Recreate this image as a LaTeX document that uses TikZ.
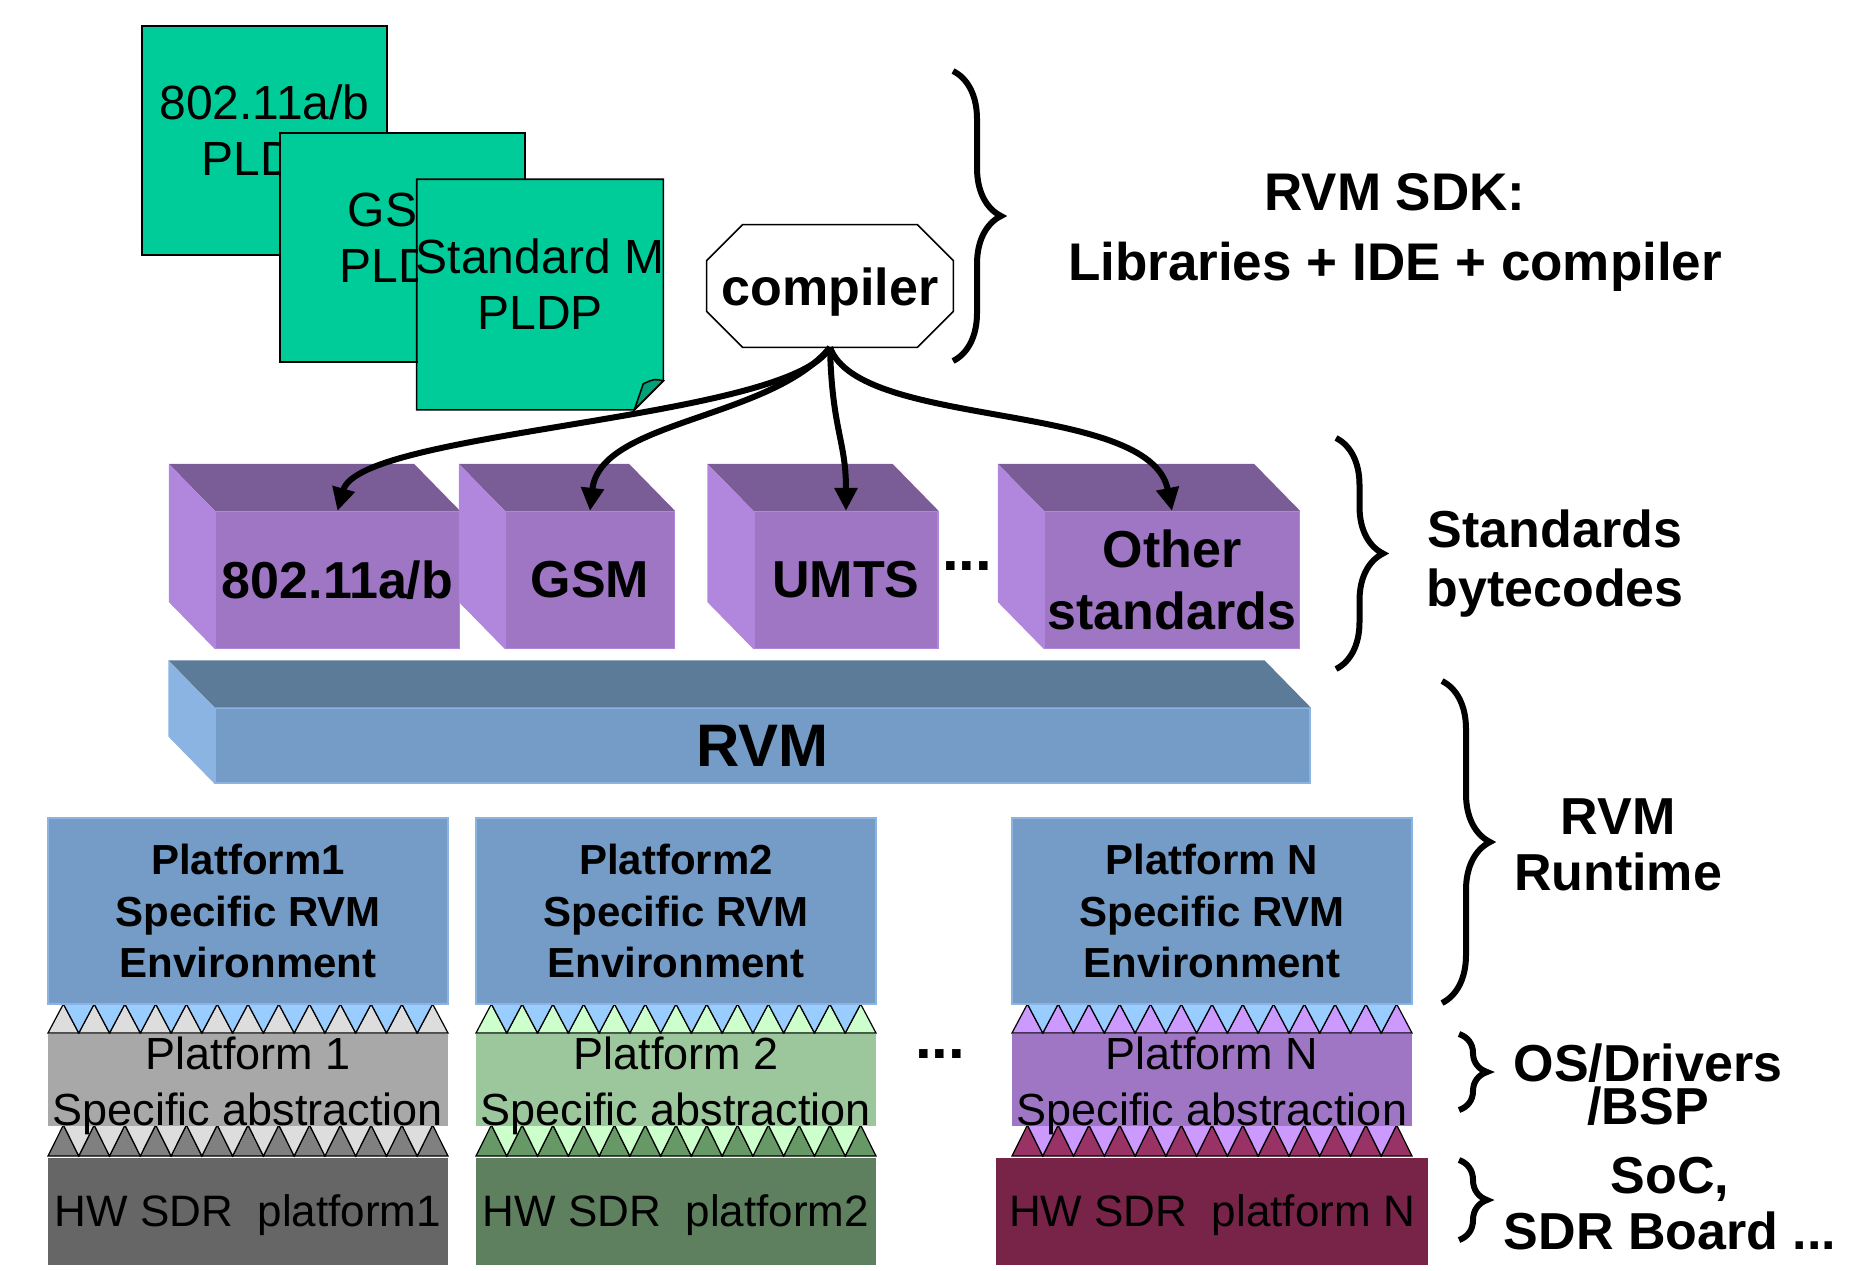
\documentclass[tikz,border=0pt]{standalone}
\usepackage{fontspec}
\setmainfont{Liberation Sans}
\usetikzlibrary{arrows.meta, positioning, calc, decorations.pathreplacing}

\definecolor{cardgreen}{RGB}{0,204,153}
\definecolor{folddark}{RGB}{0,160,120}
\definecolor{cubefront}{RGB}{158,118,196}
\definecolor{cubetop}{RGB}{122,92,150}
\definecolor{cubeside}{RGB}{177,135,222}
\definecolor{rvmfront}{RGB}{117,156,198}
\definecolor{rvmtop}{RGB}{91,123,153}
\definecolor{rvmside}{RGB}{139,180,226}
\definecolor{toothblue}{RGB}{153,204,255}
\definecolor{greylight}{RGB}{221,221,221}
\definecolor{greymid}{RGB}{168,168,168}
\definecolor{greytooth}{RGB}{128,128,128}
\definecolor{greydark}{RGB}{102,102,102}
\definecolor{greenlight}{RGB}{204,255,204}
\definecolor{greenmid}{RGB}{156,198,156}
\definecolor{greentooth}{RGB}{102,153,102}
\definecolor{greendark}{RGB}{94,128,94}
\definecolor{lilaclight}{RGB}{204,153,255}
\definecolor{lilacmid}{RGB}{158,118,196}
\definecolor{maroontooth}{RGB}{153,51,102}
\definecolor{maroondark}{RGB}{119,36,72}

\pgfdeclarelayer{bg}
\pgfsetlayers{bg,main}

\newcommand{\fs}[2]{\fontsize{#1}{#2}\selectfont}
\newcommand{\teeth}[6]{%
  \pgfmathsetmacro{\tw}{(#2-#1)/13}
  \foreach \i in {0,...,12}
    \filldraw[fill=#5, line width=0.6pt] ({#1+\i*\tw},#4) -- ({#1+(\i+0.5)*\tw},#3) -- ({#1+(\i+1)*\tw},#4) -- cycle;
  \foreach \i in {0,...,11}
    \filldraw[fill=#6, line width=0.6pt] ({#1+(\i+0.5)*\tw},#3) -- ({#1+(\i+1)*\tw},#4) -- ({#1+(\i+1.5)*\tw},#3) -- cycle;
}

\begin{document}
\begin{tikzpicture}[
        x=0.5pt, y=-0.5pt,
        node distance=14.5pt,
        card/.style={draw, line width=0.8pt, fill=cardgreen, minimum width=122.5pt, minimum height=114.5pt, inner sep=0pt},
        cardtext/.style={inner sep=0pt, align=center, font=\fs{24}{28}},
        cmpbox/.style={minimum width=123pt, minimum height=61pt, inner sep=0pt, text height=25pt, text depth=5.5pt, font=\bfseries\fs{26}{30}},
        cube/.style={fill=cubefront, draw=cubeside, line width=0.6pt, minimum height=68.5pt, inner sep=0pt, align=center, font=\bfseries\fs{26}{31}},
        rvmbar/.style={fill=rvmfront, draw=rvmside, line width=0.6pt, minimum width=547.5pt, minimum height=37.5pt, inner sep=0pt, font=\bfseries\fs{30}{36}},
        env/.style={fill=rvmfront, draw=rvmside, line width=0.6pt, minimum width=200pt, minimum height=93pt, inner sep=0pt, align=center, font=\bfseries\fs{21}{25.8}},
        absbox/.style={minimum width=200pt, minimum height=46pt, inner sep=0pt},
        abstext/.style={inner sep=0pt, align=center, font=\fs{22.5}{28}},
        hwbox/.style={minimum width=200pt, minimum height=53.5pt, inner sep=0pt, text height=19.5pt, text depth=4.6pt, font=\fs{22}{26}},
        dots/.style={inner sep=0pt, font=\bfseries\fs{30}{30}},
        lbl/.style={inner sep=0pt, align=center},
        curly/.style={decorate, decoration={brace, amplitude=#1, aspect=0.5}, line width=3pt},
        flow/.style={-{Triangle[length=11.5pt, width=11pt]}, line width=3pt}
    ]

    \useasboundingbox (0,0) rectangle (1857,1270);

    \node[card] (pld1) at (264.5,140.5) {};
    \node[cardtext] (pld1t) at ($(pld1)+(0,-10)$) {802.11a/b\\PLDP};
    \node[card] (pld2) at (402.5,247.5) {};
    \node[cardtext] (pld2t) at ($(pld2)+(0,-10)$) {GSM\\PLDP};
    \node[card, draw=none] (pld3) at (540,294.5) {};
    \fill[white] (pld3.south east) -- ++(0,-29) -- ++(-29,29) -- cycle;
    \draw[line width=0.8pt] (pld3.north west) -- (pld3.north east) -- ($(pld3.south east)+(0,-29)$) -- ($(pld3.south east)+(-29,0)$) -- (pld3.south west) -- cycle;
    \filldraw[fill=folddark, line width=0.8pt] ($(pld3.south east)+(0,-29)$) .. controls ($(pld3.south east)+(-9,-31)$) .. ($(pld3.south east)+(-20,-26)$) -- ($(pld3.south east)+(-29,0)$) -- cycle;
    \node[cardtext] (pld3t) at ($(pld3)+(0,-10)$) {Standard M\\PLDP};

    \node[cmpbox] (cmp) at (830,286) {compiler};

    \node[cube, minimum width=122pt] (s1) at (337.5,580) {802.11a/b};
    \node[cube, minimum width=84.5pt] (s2) at (590,580) {GSM};
    \node[cube, minimum width=92pt] (s3) at (846,580) {UMTS};
    \node[cube, minimum width=127.5pt] (s4) at (1172,580) {Other\\standards};
    \foreach \c in {s1,s2,s3,s4} {
        \fill[cubetop] (\c.north west) -- ++(-46,-47) -- ($(\c.north east)+(-46,-47)$) -- (\c.north east) -- cycle;
        \fill[cubeside] (\c.north west) -- ++(-46,-47) -- ($(\c.south west)+(-46,-47)$) -- (\c.south west) -- cycle;
    }
    \node[dots] (dots1) at (967,566) {...};

    \node[rvmbar] (rvm) at (762.5,745.5) {RVM};
    \fill[rvmtop] (rvm.north west) -- ++(-46,-47) -- ($(rvm.north east)+(-46,-47)$) -- (rvm.north east) -- cycle;
    \fill[rvmside] (rvm.north west) -- ++(-46,-47) -- ($(rvm.south west)+(-46,-47)$) -- (rvm.south west) -- cycle;

    \node[env] (env1) at (248,911) {Platform1\\Specific RVM\\Environment};
    \node[env] (env2) at (676,911) {Platform2\\Specific RVM\\Environment};
    \node[env] (envN) at (1212,911) {Platform N\\Specific RVM\\Environment};

    \node[absbox, fill=greymid, below=of env1] (abs1) {};
    \node[absbox, fill=greenmid, below=of env2] (abs2) {};
    \node[absbox, fill=lilacmid, below=of envN] (absN) {};
    \node[abstext] (abs1t) at ($(abs1)+(0,6)$) {Platform 1\\Specific abstraction};
    \node[abstext] (abs2t) at ($(abs2)+(0,6)$) {Platform 2\\Specific abstraction};
    \node[abstext] (absNt) at ($(absN)+(0,6)$) {Platform N\\Specific abstraction};
    \node[dots] (dots2) at (940,1054) {...};

    \node[hwbox, fill=greydark, below=15.5pt of abs1] (hw1) {HW SDR\ \ platform1};
    \node[hwbox, fill=greendark, below=15.5pt of abs2] (hw2) {HW SDR\ \ platform2};
    \node[hwbox, fill=maroondark, minimum width=216pt, below=15.5pt of absN] (hwN) {HW SDR\ \ platform N};

    \begin{pgfonlayer}{bg}
        \filldraw[fill=white, line width=0.8pt] ($(cmp.north west)+(36,0)$) -- ($(cmp.north east)+(-36,0)$) -- ($(cmp.north east)+(0,36)$) -- ($(cmp.south east)+(0,-36)$) -- ($(cmp.south east)+(-36,0)$) -- ($(cmp.south west)+(36,0)$) -- ($(cmp.south west)+(0,-36)$) -- ($(cmp.north west)+(0,36)$) -- cycle;
        \teeth{48}{448}{1004}{1033}{greylight}{toothblue}
        \teeth{476}{876}{1004}{1033}{greenlight}{toothblue}
        \teeth{1012}{1412}{1004}{1033}{lilaclight}{toothblue}
        \teeth{48}{448}{1125}{1156}{greytooth}{greylight}
        \teeth{476}{876}{1125}{1156}{greentooth}{greenlight}
        \teeth{1012}{1412}{1125}{1156}{maroontooth}{lilaclight}
    \end{pgfonlayer}

    \draw[flow] (cmp.south) .. controls (790,420) and (360,430) .. (s1.north);
    \draw[flow] (cmp.south) .. controls (770,420) and (600,420) .. (s2.north);
    \draw[flow] (cmp.south) .. controls (832,430) and (846,440) .. (s3.north);
    \draw[flow] (cmp.south) .. controls (860,430) and (1150,400) .. (s4.north);

    \draw[curly=24pt] (953,71) -- (953,361);
    \draw[curly=23.5pt] (1336,438) -- (1336,669);
    \draw[curly=24pt] (1442,681) -- (1442,1003);
    \draw[curly=14pt] (1459,1034) -- (1459,1110);
    \draw[curly=14pt] (1459,1160) -- (1459,1240);

    \node[lbl, font=\bfseries\fs{26.5}{35}] (sdk) at (1395,232) {RVM SDK:\\Libraries + IDE + compiler};
    \node[lbl, font=\bfseries\fs{26}{29.5}] (stdlbl) at (1555,564) {Standards\\bytecodes};
    \node[lbl, font=\bfseries\fs{26}{28}] (rtlbl) at (1618,845) {RVM\\Runtime};
    \node[lbl, font=\bfseries\fs{26}{21.5}] (oslbl) at (1648,1085) {OS/Drivers\\/BSP};
    \node[lbl, font=\bfseries\fs{26}{28}] (soclbl) at (1670,1204) {SoC,\\SDR Board ...};

\end{tikzpicture}
\end{document}
